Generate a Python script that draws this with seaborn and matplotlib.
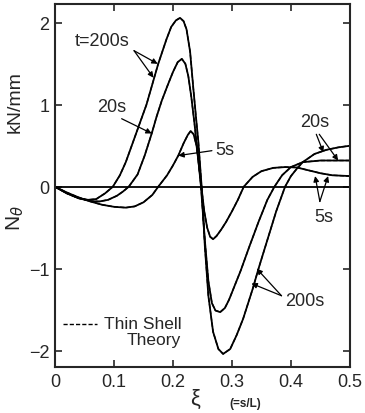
import matplotlib
matplotlib.use("Agg")
import matplotlib.pyplot as plt
import seaborn as sns
import pandas as pd
import numpy as np

sns.set_style("ticks")
plt.rcParams['font.family'] = ['Liberation Sans', 'DejaVu Sans']

# t = 200 s
xi_200 = [0, 0.02, 0.04, 0.056, 0.07, 0.085, 0.098, 0.11, 0.12, 0.13, 0.14, 0.155, 0.165,
          0.175, 0.189, 0.197, 0.205, 0.212, 0.218, 0.223, 0.229, 0.2345, 0.239, 0.243, 0.2486,
          0.254, 0.26, 0.268, 0.277, 0.285, 0.297, 0.308, 0.319, 0.335, 0.345, 0.36, 0.375,
          0.39, 0.40, 0.41, 0.42, 0.44, 0.46, 0.48, 0.5]
n_200 = [0, -0.08, -0.14, -0.16, -0.15, -0.08, 0.0, 0.14, 0.30, 0.50, 0.70, 1.0, 1.25,
         1.5, 1.8, 1.95, 2.03, 2.06, 2.02, 1.92, 1.65, 1.2, 0.85, 0.55, 0.0,
         -0.72, -1.33, -1.77, -1.98, -2.04, -1.98, -1.81, -1.61, -1.25, -1.0, -0.65, -0.3,
         0.0, 0.13, 0.22, 0.3, 0.4, 0.45, 0.48, 0.5]

# t = 20 s
xi_20 = [0, 0.02, 0.04, 0.06, 0.075, 0.09, 0.105, 0.115, 0.125, 0.14, 0.152, 0.164, 0.172,
         0.181, 0.19, 0.2, 0.208, 0.215, 0.221, 0.226, 0.231, 0.236, 0.242, 0.2475, 0.254,
         0.26, 0.266, 0.272, 0.28, 0.288, 0.295, 0.305, 0.315, 0.33, 0.345, 0.36, 0.372,
         0.385, 0.40, 0.42, 0.45, 0.5]
n_20 = [0, -0.08, -0.14, -0.175, -0.18, -0.16, -0.11, -0.06, 0.0, 0.15, 0.38, 0.65, 0.85,
        1.05, 1.22, 1.4, 1.52, 1.56, 1.5, 1.35, 1.1, 0.8, 0.4, 0.0, -0.65,
        -1.15, -1.42, -1.51, -1.53, -1.48, -1.38, -1.2, -1.02, -0.72, -0.43, -0.16, 0.0,
        0.14, 0.24, 0.3, 0.32, 0.32]

# t = 5 s
xi_5 = [0, 0.02, 0.04, 0.06, 0.08, 0.1, 0.12, 0.135, 0.15, 0.165, 0.175, 0.19, 0.2, 0.209,
        0.218, 0.225, 0.23, 0.235, 0.24, 0.245, 0.249, 0.253, 0.258, 0.263, 0.268, 0.274,
        0.282, 0.29, 0.30, 0.31, 0.32, 0.335, 0.35, 0.37, 0.39, 0.41, 0.43, 0.45, 0.47, 0.5]
n_5 = [0, -0.07, -0.13, -0.18, -0.22, -0.245, -0.255, -0.24, -0.19, -0.1, 0.0, 0.14, 0.26, 0.38,
       0.53, 0.63, 0.68, 0.64, 0.5, 0.2, -0.05, -0.3, -0.5, -0.61, -0.64, -0.6,
       -0.52, -0.43, -0.3, -0.16, 0.0, 0.12, 0.19, 0.23, 0.24, 0.235, 0.2, 0.165, 0.14, 0.13]

times = ["5s", "20s", "200s"]

df = pd.concat([
    pd.DataFrame({"xi": xi_5, "N": n_5, "t": "5s"}),
    pd.DataFrame({"xi": xi_20, "N": n_20, "t": "20s"}),
    pd.DataFrame({"xi": xi_200, "N": n_200, "t": "200s"}),
], ignore_index=True)

fig = plt.figure(figsize=(3.65, 4.14), dpi=100)
ax = fig.add_axes([0.1507, 0.111, 0.808, 0.877])

pal = {t: "black" for t in times}
sns.lineplot(data=df, x="xi", y="N", hue="t", palette=pal, sort=False,
             estimator=None, lw=1.3, legend=False, ax=ax)
sns.lineplot(data=df, x="xi", y="N", hue="t", palette=pal, sort=False,
             estimator=None, lw=1.0, linestyle=(0, (3, 1.5)), legend=False, ax=ax)

ax.axhline(0, color="black", lw=1.3)

ax.set_xlim(0, 0.5)
ax.set_ylim(-2.2, 2.23)
ax.set_xticks([0, 0.1, 0.2, 0.3, 0.4, 0.5])
ax.set_xticklabels(["0", "0.1", "0.2", "0.3", "0.4", "0.5"])
ax.set_yticks([-2, -1, 0, 1, 2])
ax.set_yticklabels(["\u22122", "\u22121", "0", "1", "2"])
ax.set_xlabel("")
ax.set_ylabel("")
ax.tick_params(direction="in", length=5, width=1.2, labelsize=13,
               top=True, right=True, pad=4)
for s in ax.spines.values():
    s.set_linewidth(1.5)
    s.set_visible(True)

arr = dict(arrowstyle="-|>", color="black", lw=0.9, mutation_scale=8,
           shrinkA=0, shrinkB=0)
fs = 13
# t=200s upper left
ax.text(0.034, 1.79, "t=200s", fontsize=fs, va="center", ha="left")
for hx, hy in [(0.174, 1.50), (0.167, 1.33)]:
    ax.annotate("", xy=(hx, hy), xytext=(0.134, 1.66), arrowprops=arr)
# 20s left
ax.text(0.071, 0.98, "20s", fontsize=fs, va="center", ha="left")
ax.annotate("", xy=(0.164, 0.65), xytext=(0.113, 0.83), arrowprops=arr)
# 5s middle
ax.text(0.272, 0.45, "5s", fontsize=fs, va="center", ha="left")
ax.annotate("", xy=(0.209, 0.38), xytext=(0.266, 0.44), arrowprops=arr)
# 20s right
ax.text(0.44, 0.80, "20s", fontsize=fs, va="center", ha="center")
ax.annotate("", xy=(0.455, 0.42), xytext=(0.443, 0.64), arrowprops=arr)
ax.annotate("", xy=(0.48, 0.32), xytext=(0.448, 0.64), arrowprops=arr)
# 5s right
ax.text(0.455, -0.36, "5s", fontsize=fs, va="center", ha="center")
ax.annotate("", xy=(0.441, 0.13), xytext=(0.449, -0.18), arrowprops=arr)
ax.annotate("", xy=(0.463, 0.13), xytext=(0.449, -0.18), arrowprops=arr)
# 200s right lower
ax.text(0.39, -1.39, "200s", fontsize=fs, va="center", ha="left")
ax.annotate("", xy=(0.342, -1.0), xytext=(0.384, -1.33), arrowprops=arr)
ax.annotate("", xy=(0.333, -1.18), xytext=(0.384, -1.33), arrowprops=arr)

# legend-like note
ax.plot([0.014, 0.072], [-1.67, -1.67], color="black", lw=1.0, linestyle=(0, (3, 1.5)))
ax.text(0.214, -1.67, "Thin Shell", fontsize=12.5, va="center", ha="right")
ax.text(0.214, -1.87, "Theory", fontsize=12.5, va="center", ha="right")

# axis labels
fig.text(0.042, 0.754, "kN/mm", rotation=90, fontsize=14, ha="center", va="center")
fig.text(0.042, 0.473, r"N$_\theta$", rotation=90, fontsize=15, ha="center", va="center")
fig.text(0.534, 0.035, "\u03be", fontsize=16, ha="center", va="center")
fig.text(0.671, 0.024, "(=s/L)", fontsize=8.5, fontweight="bold", ha="center", va="center")

fig.savefig("out.png", dpi=100)
